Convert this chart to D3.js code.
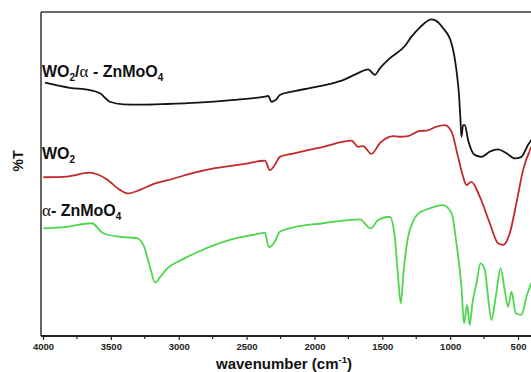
<!DOCTYPE html>
<html>
<head>
<meta charset="utf-8">
<script src="https://cdn.jsdelivr.net/npm/d3@7"></script>
<style>
  html, body { margin: 0; padding: 0; background: #fff; }
  svg { display: block; font-family: "Liberation Sans", Arial, sans-serif; }
</style>
</head>
<body>
<svg id="chart" width="531" height="372"></svg>
<script>
// FTIR spectra: wavenumber (cm^-1) vs transmittance (offset, arbitrary %T)
const compositeWave = [3985, 3801, 3654, 3580, 3507, 3409, 3286, 3089, 2859, 2610, 2365, 2341, 2316, 2279, 2255, 2144, 2034, 1887, 1789, 1690, 1604, 1555, 1518, 1445, 1334, 1285, 1224, 1138, 1113, 1052, 990, 954, 934, 924, 917, 905, 892, 868, 819, 769, 708, 647, 585, 524, 475, 426, 400];
const compositeT    = [78.2, 76.6, 75.9, 74.9, 72.3, 71.5, 71.4, 71.6, 72.0, 72.8, 73.9, 74.1, 72.3, 73.1, 74.4, 75.6, 76.5, 77.8, 79.0, 80.9, 82.3, 80.6, 82.6, 85.7, 89.5, 92.4, 95.2, 97.7, 97.5, 95.0, 90.3, 82.1, 73.9, 66.7, 61.5, 65.1, 65.1, 60.5, 55.9, 55.3, 56.9, 57.6, 56.4, 54.8, 55.3, 59.0, 60.6];

const wo2Wave = [3998, 3825, 3654, 3531, 3433, 3372, 3286, 3188, 3087, 2905, 2733, 2488, 2365, 2328, 2292, 2255, 2159, 1936, 1727, 1678, 1641, 1580, 1518, 1420, 1371, 1310, 1224, 1174, 1101, 1040, 990, 942, 905, 880, 843, 782, 708, 647, 610, 561, 512, 463, 400];
const wo2T    = [49.0, 49.2, 50.4, 48.4, 45.1, 44.0, 45.1, 46.9, 48.0, 50.2, 51.8, 53.3, 54.1, 51.2, 52.8, 55.3, 56.3, 58.4, 60.3, 58.4, 58.6, 56.2, 59.5, 61.7, 61.5, 61.7, 63.3, 63.4, 64.6, 65.1, 63.1, 55.3, 49.2, 46.6, 47.6, 43.0, 34.8, 28.6, 28.1, 31.7, 41.0, 51.2, 58.5];

const znmoWave = [3998, 3825, 3641, 3556, 3433, 3310, 3261, 3212, 3175, 3126, 3080, 2979, 2856, 2733, 2610, 2415, 2365, 2336, 2292, 2255, 2166, 1936, 1666, 1585, 1531, 1445, 1408, 1384, 1364, 1342, 1310, 1275, 1238, 1150, 1052, 990, 954, 917, 898, 875, 856, 836, 806, 777, 745, 721, 696, 664, 629, 598, 573, 548, 517, 475, 438, 400];
const znmoT    = [33.2, 33.7, 34.8, 31.7, 30.6, 30.2, 28.1, 21.4, 16.5, 18.8, 21.0, 23.5, 26.0, 28.1, 29.8, 31.5, 31.9, 27.4, 29.1, 32.2, 33.4, 34.8, 36.0, 33.2, 35.8, 36.8, 30.6, 18.3, 10.1, 20.4, 30.6, 35.2, 37.7, 39.4, 40.4, 37.9, 28.6, 15.2, 3.9, 9.6, 3.4, 10.1, 16.3, 22.4, 20.4, 12.1, 4.9, 12.1, 20.9, 14.2, 9.0, 13.7, 7.0, 6.5, 12.1, 16.5];

const xTicks = [4000, 3500, 3000, 2500, 2000, 1500, 1000, 500];
const xMinorTicks = [3750, 3250, 2750, 2250, 1750, 1250, 750];

const svg = d3.select("#chart");
const plotLeft = 41, plotTop = 12, plotBottom = 336, plotRight = 531;

const x = d3.scaleLinear().domain([4000, 400]).range([43, 531.6]);
const y = d3.scaleLinear().domain([0, 100]).range([plotBottom, plotTop]);

svg.append("defs").append("clipPath").attr("id", "plotClip")
  .append("rect").attr("x", plotLeft).attr("y", plotTop)
  .attr("width", plotRight - plotLeft).attr("height", plotBottom - plotTop);

// spectra
const line = d3.line().x(d => x(d[0])).y(d => y(d[1])).curve(d3.curveMonotoneX);
const series = [
  { w: compositeWave, t: compositeT, color: "#141414" },
  { w: wo2Wave, t: wo2T, color: "#c2292b" },
  { w: znmoWave, t: znmoT, color: "#4fd64f" }
];
const plot = svg.append("g").attr("clip-path", "url(#plotClip)");
series.forEach(s => {
  plot.append("path")
    .datum(s.w.map((w, i) => [w, s.t[i]]))
    .attr("fill", "none")
    .attr("stroke", s.color)
    .attr("stroke-width", 1.8)
    .attr("stroke-linejoin", "round")
    .attr("d", line);
});

// frame: left and top edges
svg.append("line").attr("x1", plotLeft).attr("x2", plotLeft).attr("y1", plotTop).attr("y2", plotBottom)
  .attr("stroke", "#333").attr("stroke-width", 1.5);
svg.append("line").attr("x1", plotLeft).attr("x2", plotRight).attr("y1", plotTop).attr("y2", plotTop)
  .attr("stroke", "#333").attr("stroke-width", 1.5);

// bottom axis
const axisG = svg.append("g").attr("transform", `translate(0,${plotBottom})`);
axisG.call(d3.axisBottom(x).tickValues(xTicks).tickSize(4).tickPadding(3).tickFormat(d3.format("d")));
axisG.select(".domain").remove();
axisG.selectAll(".tick line").attr("stroke", "#222").attr("stroke-width", 1.2);
axisG.selectAll(".tick text")
  .attr("font-family", "Liberation Sans, Arial, sans-serif")
  .attr("font-size", 9.5).attr("font-weight", "bold").attr("fill", "#222");
axisG.selectAll(".minor").data(xMinorTicks).enter().append("line")
  .attr("x1", d => x(d)).attr("x2", d => x(d)).attr("y1", 0).attr("y2", 3)
  .attr("stroke", "#222").attr("stroke-width", 1.2);
svg.append("line").attr("x1", plotLeft).attr("x2", plotRight).attr("y1", plotBottom).attr("y2", plotBottom)
  .attr("stroke", "#222").attr("stroke-width", 2);

// axis titles
const xt = svg.append("text").attr("x", 284).attr("y", 369).attr("text-anchor", "middle")
  .attr("font-size", 15).attr("font-weight", "bold").attr("fill", "#111");
xt.append("tspan").text("wavenumber (cm");
xt.append("tspan").attr("dy", -6).attr("font-size", 9.5).text("-1");
xt.append("tspan").attr("dy", 6).text(")");

svg.append("text").attr("transform", "translate(23,161) rotate(-90)")
  .attr("text-anchor", "middle").attr("font-size", 14).attr("font-weight", "bold")
  .attr("fill", "#111").text("%T");

// series labels
function label(yb, parts) {
  const t = svg.append("text").attr("x", 42).attr("y", yb)
    .attr("font-size", 16).attr("font-weight", "bold").attr("fill", "#111");
  parts.forEach(p => {
    const s = t.append("tspan").text(p.s);
    if (p.sub) s.attr("font-size", 10).attr("dy", 4);
    else if (p.after) s.attr("dy", -4);
    if (p.greek) s.attr("font-weight", "normal").attr("font-family", "Liberation Serif, serif").attr("font-size", 17);
  });
}
label(77, [{ s: "WO" }, { s: "2", sub: true }, { s: "/", after: true }, { s: "α", greek: true }, { s: " - ZnMoO" }, { s: "4", sub: true }]);
label(159, [{ s: "WO" }, { s: "2", sub: true }]);
label(216, [{ s: "α", greek: true }, { s: "- ZnMoO" }, { s: "4", sub: true }]);
</script>
</body>
</html>
